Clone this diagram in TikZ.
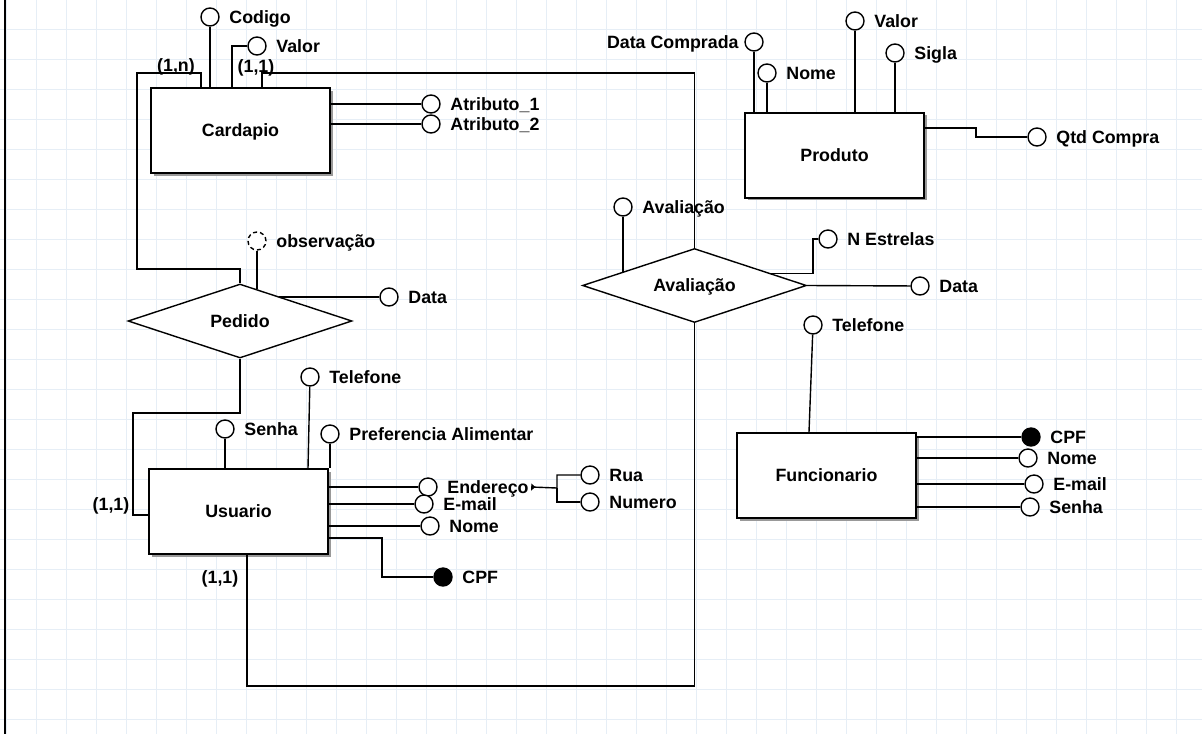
\documentclass[tikz,border=0pt]{standalone}
\usepackage{fontspec}
\setmainfont{Liberation Sans}
\usetikzlibrary{shapes.geometric,shadows,calc,arrows.meta}

\definecolor{gridcor}{HTML}{E6EEF6}

\tikzset{
  entidade/.style={draw, line width=1pt, fill=white, minimum width=89.5pt, minimum height=42.5pt,
    inner sep=0pt, text height=6.4pt, text depth=0pt,
    drop shadow={shadow xshift=1.4pt, shadow yshift=-1.4pt, fill=black!40, opacity=1}},
  relacao/.style={draw, diamond, aspect=3, fill=white, minimum width=112pt, minimum height=37pt,
    inner sep=0pt, text height=6.4pt, text depth=0pt},
  atrib/.style={draw, circle, fill=white, minimum size=9pt, inner sep=0pt},
  chave/.style={atrib, fill=black},
  lbl/.style={inner sep=0pt, text height=6.4pt, text depth=0pt, label distance=4.5pt},
  card/.style={inner sep=0pt, text height=6.4pt, text depth=0pt},
  gridlinha/.style={line width=0.5pt, gridcor}
}

\begin{document}
\begin{tikzpicture}[x=0.5pt, y=-0.5pt, line width=0.7pt, font=\fontsize{8.9}{10}\selectfont\bfseries]
\useasboundingbox (0,0) rectangle (1202,734);
\fill[white] (0,0) rectangle (1202,734);
\foreach \gx in {6,36,...,1196} \draw[gridlinha] (\gx,0) -- (\gx,734);
\foreach \gy in {29,59,...,719} \draw[gridlinha] (0,\gy) -- (1202,\gy);
\draw[line width=0.75pt] (5,0) -- (5,734);

% entidades e relacoes
\node[entidade] (cardapio) at (240.5,130.5) {Cardapio};
\node[entidade] (produto) at (834.5,155) {Produto};
\node[entidade] (usuario) at (238.5,511.5) {Usuario};
\node[entidade] (funcionario) at (826.5,475.5) {Funcionario};
\node[relacao] (pedido) at (240,321) {Pedido};
\node[relacao] (avaliacao) at (694.5,285.5) {Avaliação};

% Cardapio
\node[atrib, label={[lbl]right:Codigo}] (codigo) at (210,17) {};
\node[atrib, label={[lbl]right:Valor}] (cvalor) at (257,46) {};
\node[atrib, label={[lbl]right:Atributo\_1}] (atrib1) at (431,104) {};
\node[atrib, label={[lbl]right:Atributo\_2}] (atrib2) at (431,124) {};
\draw (codigo) -- (codigo |- cardapio.north);
\draw (cvalor.west) -| ($(cardapio.north west)+(82,0)$);
\draw (cardapio.east |- atrib1) -- (atrib1);
\draw (cardapio.east |- atrib2) -- (atrib2);
\node[card] (cn) at (176,65) {(1,n)};
\node[card] (c11a) at (256,66) {(1,1)};
\draw ($(cardapio.north west)+(51,0)$) |- (137,73) -- (137,269) -| (pedido.north);
\draw ($(cardapio.north west)+(112,0)$) |- (694.5,73) -- (avaliacao.north);

% Produto
\node[atrib, label={[lbl, label distance=2.5pt]left:Data Comprada}] (dcomprada) at (754,42) {};
\node[atrib, label={[lbl]right:Nome}] (pnome) at (767,73) {};
\node[atrib, label={[lbl]right:Valor}] (pvalor) at (855,21) {};
\node[atrib, label={[lbl]right:Sigla}] (sigla) at (895,53) {};
\node[atrib, label={[lbl]right:Qtd Compra}] (qtd) at (1037,137) {};
\draw (dcomprada) -- (dcomprada |- produto.north);
\draw (pnome) -- (pnome |- produto.north);
\draw (pvalor) -- (pvalor |- produto.north);
\draw (sigla) -- (sigla |- produto.north);
\draw ($(produto.east)+(0,-27)$) -| (976,137) -- (qtd);

% Pedido
\node[atrib, dash pattern=on 2pt off 1.5pt, label={[lbl]right:observação}] (obs) at (257,241) {};
\node[atrib, label={[lbl]right:Data}] (pdata) at (389,297) {};
\draw (obs) -- (obs |- pedido.61);
\draw (pedido.32 |- pdata) -- (pdata);
\draw (pedido.south) |- (133,413) |- ($(usuario.west)+(0,3.5)$);
\node[card] (c11b) at (111,504) {(1,1)};

% Usuario
\node[atrib, label={[lbl]right:Senha}] (senha) at (225,429) {};
\node[atrib, label={[lbl]right:Telefone}] (utel) at (310,377) {};
\node[atrib, label={[lbl]right:Preferencia Alimentar}] (pref) at (330,434) {};
\node[atrib, label={[lbl, name=endlbl]right:Endereço}] (endereco) at (428,487) {};
\node[atrib, label={[lbl]right:E-mail}] (uemail) at (424,504) {};
\node[atrib, label={[lbl]right:Nome}] (unome) at (430,526) {};
\node[chave, label={[lbl]right:CPF}] (ucpf) at (443,577) {};
\node[atrib, label={[lbl]right:Rua}] (rua) at (590,475) {};
\node[atrib, label={[lbl]right:Numero}] (numero) at (590,502) {};
\draw (senha) -- (senha |- usuario.north);
\draw (utel) -- ($(usuario.north east)+(-21,0)$);
\draw (pref) -- (pref |- usuario.north);
\draw (usuario.east |- endereco) -- (endereco);
\draw (usuario.east |- uemail) -- (uemail);
\draw (usuario.east |- unome) -- (unome);
\draw ($(usuario.east)+(0,26.5)$) -| (382,577) -- (ucpf);
\draw[{Triangle[reversed, length=2pt, width=3.5pt]}-] ([xshift=1pt]endlbl.east) -- (557,488) |- (rua);
\draw (557,488) |- (numero);
\draw ($(usuario.south west)+(99,0)$) |- (694.5,686) -- (avaliacao.south);
\node[card] (c11c) at (220,577) {(1,1)};

% Avaliacao
\node[atrib, label={[lbl]right:Avaliação}] (aval) at (623,207) {};
\node[atrib, label={[lbl]right:N Estrelas}] (estrelas) at (828,239) {};
\node[atrib, label={[lbl]right:Data}] (adata) at (920,286) {};
\draw (aval) -- (aval |- avaliacao.169);
\draw (avaliacao.9) -| (813,239) -- (estrelas.west);
\draw (avaliacao.east) -- (adata);

% Funcionario
\node[atrib, label={[lbl]right:Telefone}] (ftel) at (813,325) {};
\node[chave, label={[lbl]right:CPF}] (fcpf) at (1031,437) {};
\node[atrib, label={[lbl]right:Nome}] (fnome) at (1028,458) {};
\node[atrib, label={[lbl]right:E-mail}] (femail) at (1034,484) {};
\node[atrib, label={[lbl]right:Senha}] (fsenha) at (1030,507) {};
\draw (ftel) -- ($(funcionario.north west)+(73,0)$);
\draw (funcionario.east |- fcpf) -- (fcpf);
\draw (funcionario.east |- fnome) -- (fnome);
\draw (funcionario.east |- femail) -- (femail);
\draw (funcionario.east |- fsenha) -- (fsenha);
\end{tikzpicture}
\end{document}
